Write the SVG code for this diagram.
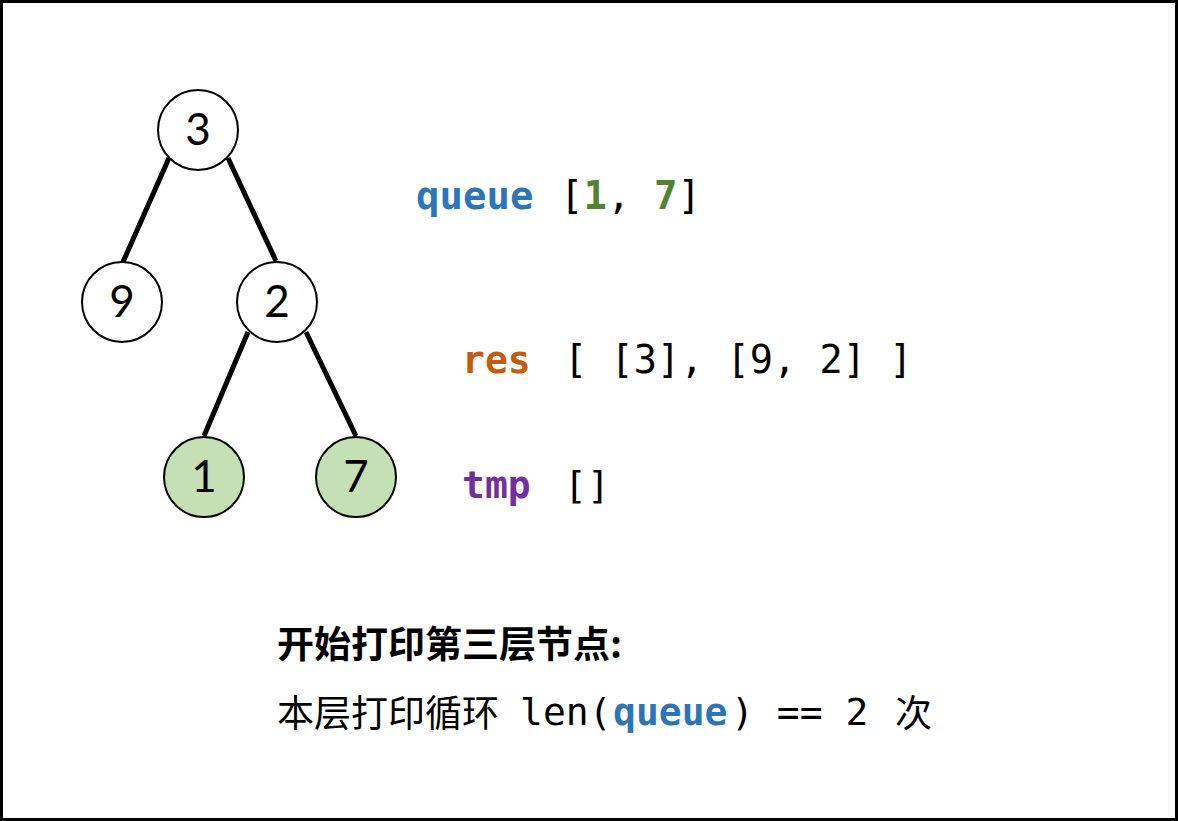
<svg xmlns="http://www.w3.org/2000/svg" width="1178" height="821" viewBox="0 0 1178 821">
<style>
.node{fill:#fff;stroke:#000;stroke-width:2}
.hl{fill:#C5E0B4}
.lbl{font-family:Lato,"Open Sans",sans-serif;font-size:44px;text-anchor:middle;fill:#000}
.edge{stroke:#000;stroke-width:5;fill:none}
.mono{font-family:"DejaVu Sans Mono",monospace;font-size:38px;fill:#000}
.b{font-weight:bold}
.blue{fill:#2E75B6}
.green{fill:#548235}
.orange{fill:#C55A11}
.purple{fill:#7030A0}
.cjk{font-family:"Noto Sans CJK SC",sans-serif;font-size:37px;fill:#000}
</style>
<rect x="1.5" y="1.5" width="1175" height="818" fill="#fff" stroke="#000" stroke-width="3"/>
<g id="edges">
<line class="edge" x1="169" y1="158" x2="123" y2="262"/>
<line class="edge" x1="228" y1="158" x2="276" y2="261"/>
<line class="edge" x1="248" y1="332" x2="204" y2="436"/>
<line class="edge" x1="306" y1="332" x2="356" y2="436"/>
</g>
<g id="node3"><circle class="node" cx="198" cy="130" r="40"/><text class="lbl" x="198" y="145">3</text></g>
<g id="node9"><circle class="node" cx="122" cy="302" r="40"/><text class="lbl" x="122" y="317">9</text></g>
<g id="node2"><circle class="node" cx="277" cy="302" r="40"/><text class="lbl" x="277" y="317">2</text></g>
<g id="node1"><circle class="node hl" cx="204" cy="477" r="40"/><text class="lbl" x="204" y="492">1</text></g>
<g id="node7"><circle class="node hl" cx="356" cy="477" r="40"/><text class="lbl" x="356" y="492">7</text></g>
<g id="queue-line"><text class="mono b blue" x="416" y="209" style="font-size:39px">queue</text><text class="mono" x="560" y="209" style="font-size:39px">[<tspan class="b green">1</tspan>, <tspan class="b green">7</tspan>]</text></g>
<g id="res-line"><text class="mono b orange" x="462" y="373">res</text><text class="mono" x="564" y="373" style="font-size:38.6px">[ [3], [9, 2] ]</text></g>
<g id="tmp-line"><text class="mono b purple" x="462" y="498">tmp</text><text class="mono" x="564" y="498">[]</text></g>
<g id="caption">
<text class="cjk b" x="277" y="658">开始打印第三层节点:</text>
<text class="cjk" x="277" y="727">本层打印循环</text>
<text class="mono" x="520" y="725">len(</text>
<text class="mono b blue" x="613" y="725">queue</text>
<text class="mono" x="731" y="725">) == 2</text>
<text class="cjk" x="895" y="727">次</text>
</g>
</svg>
